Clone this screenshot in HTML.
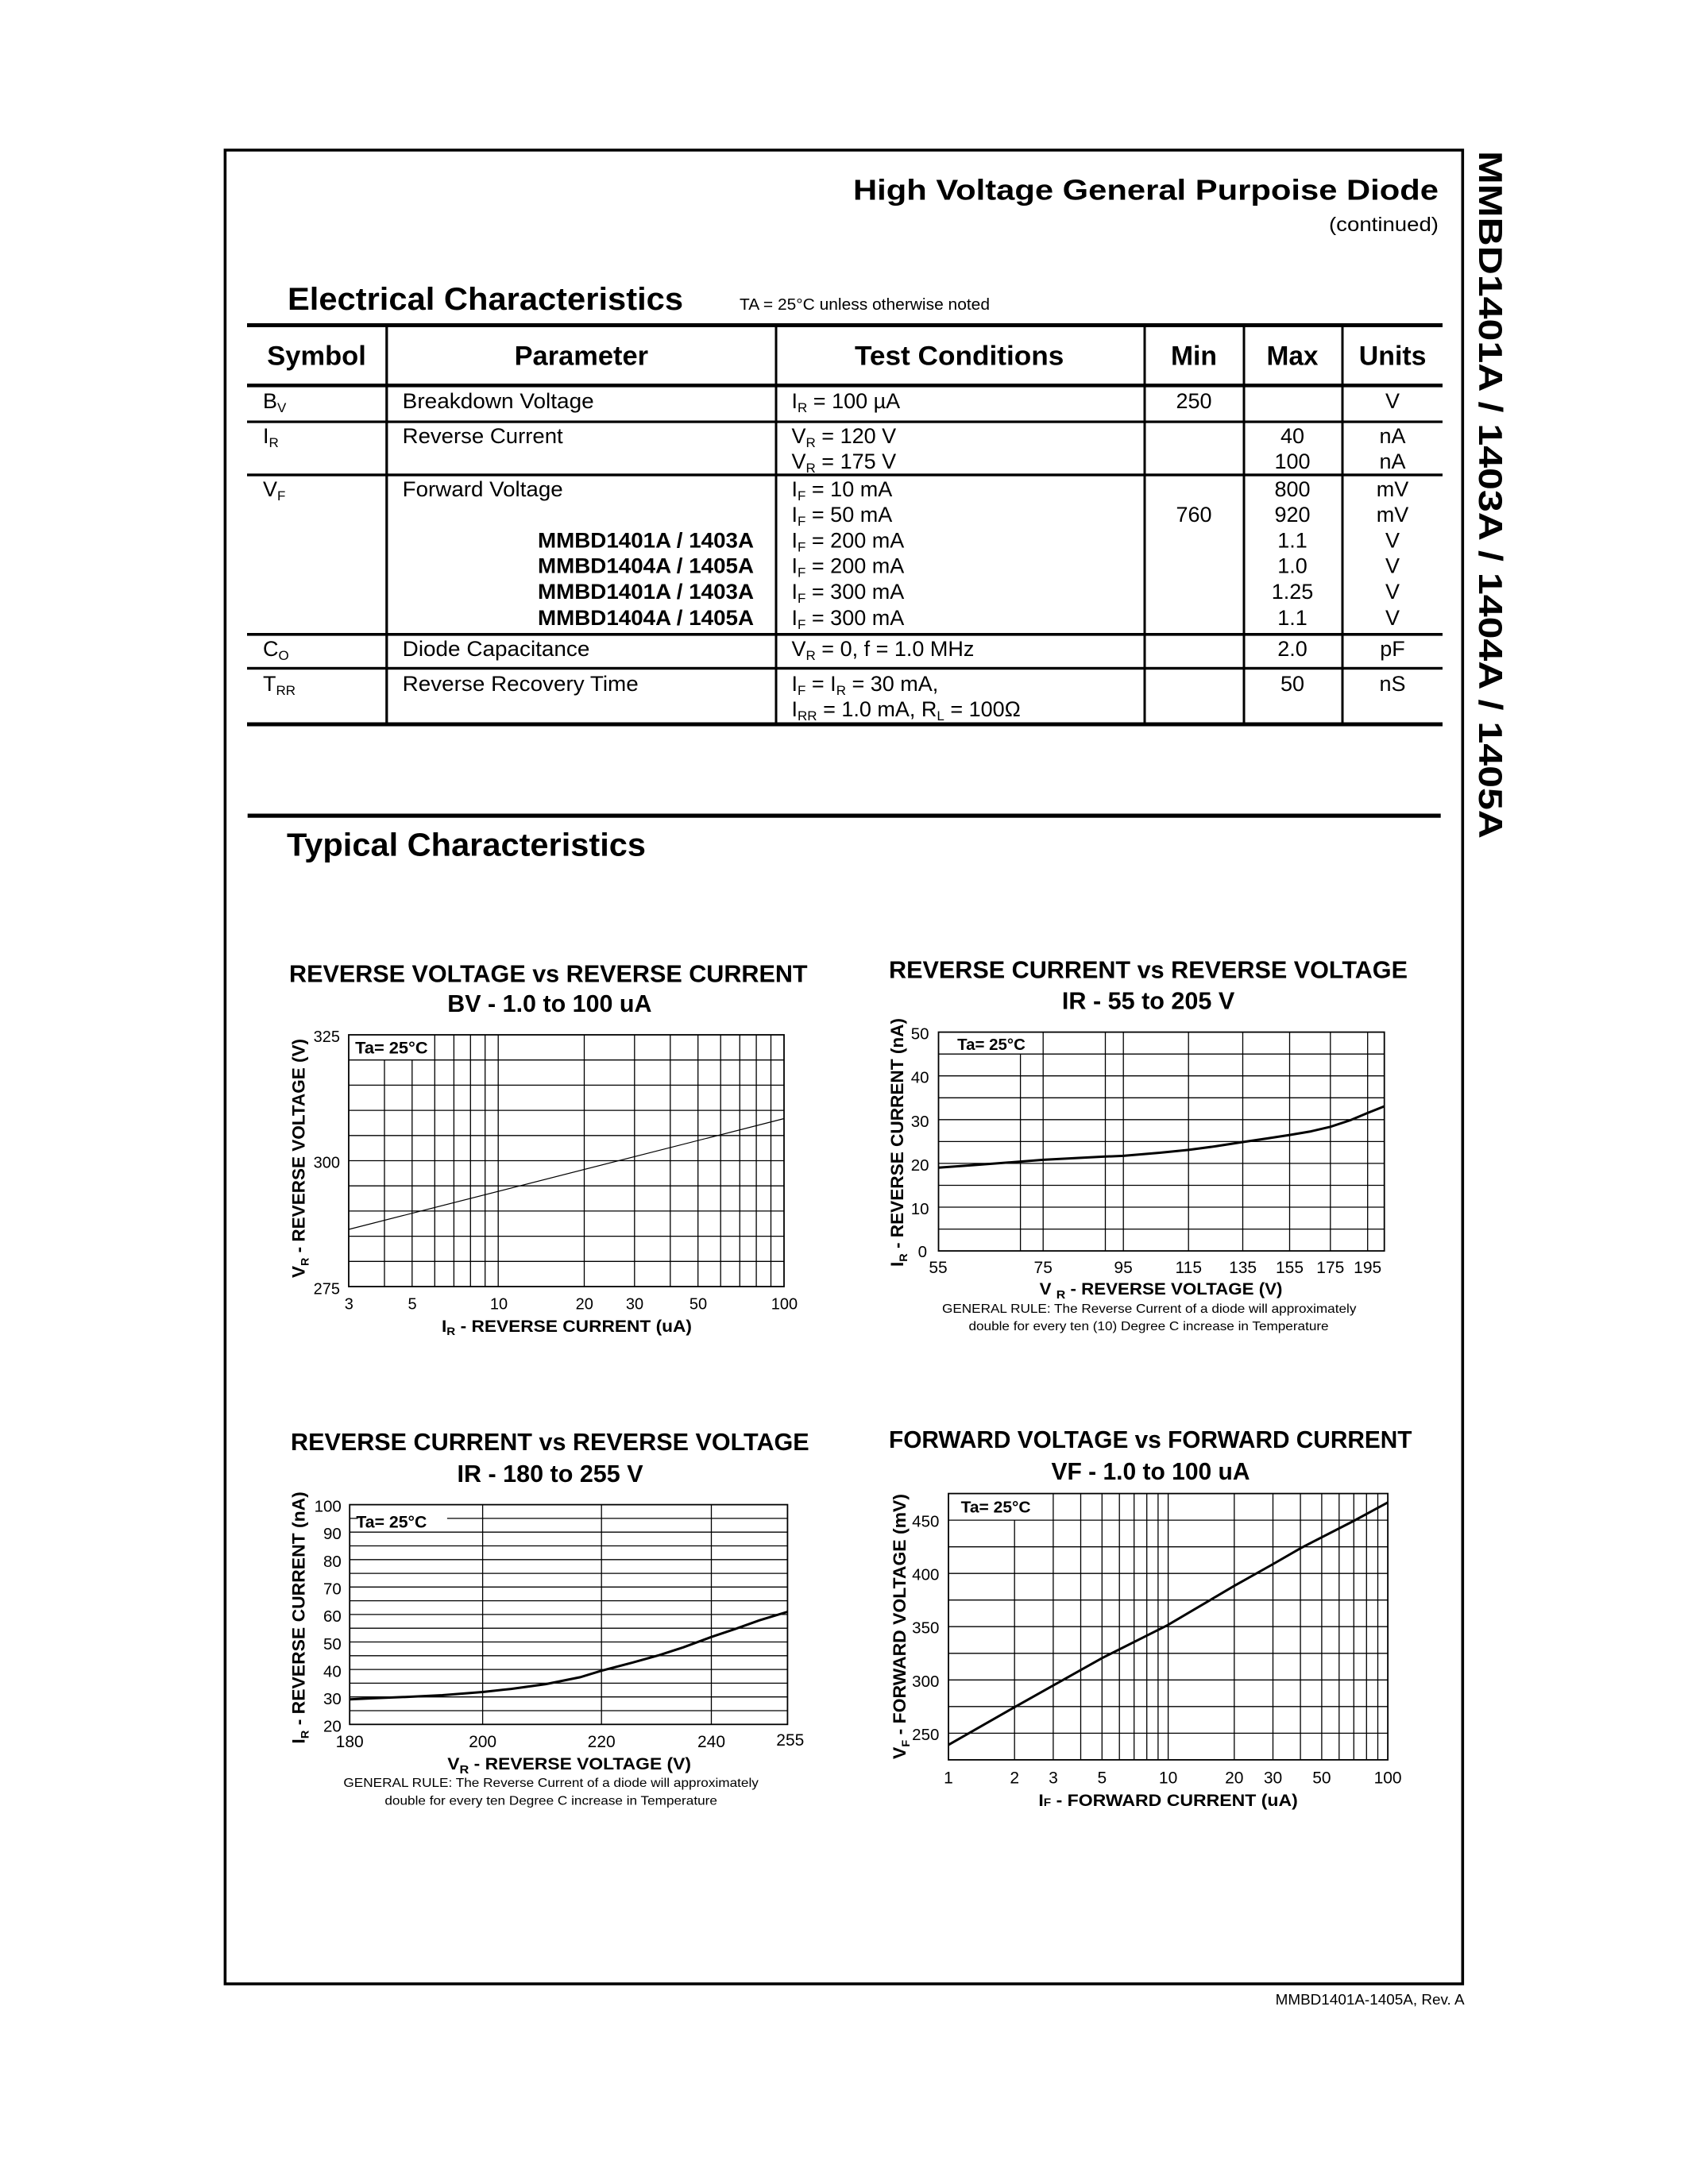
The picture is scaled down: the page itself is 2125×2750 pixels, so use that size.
<!DOCTYPE html>
<html><head><meta charset="utf-8"><style>
html,body{margin:0;padding:0;background:#fff}
svg{display:block}
text{font-family:"Liberation Sans",Arial,sans-serif;fill:#000}
.b{font-weight:bold}
</style></head><body>
<svg xmlns="http://www.w3.org/2000/svg" width="2125" height="2750" viewBox="0 0 2125 2750">
<rect width="2125" height="2750" fill="#fff"/>
<!-- outer box -->
<rect x="283.4" y="189" width="1557.9" height="2309" fill="none" stroke="#000" stroke-width="3.6"/>
<!-- vertical side text -->
<text class="b" transform="translate(1862,190) rotate(90)" font-size="42" textLength="866" lengthAdjust="spacingAndGlyphs">MMBD1401A / 1403A / 1404A / 1405A</text>
<!-- header -->
<text class="b" x="1074" y="251.5" font-size="36" textLength="737" lengthAdjust="spacingAndGlyphs">High Voltage General Purpoise Diode</text>
<text x="1673" y="291" font-size="25" textLength="138" lengthAdjust="spacingAndGlyphs">(continued)</text>
<text class="b" x="362" y="390" font-size="40" textLength="498" lengthAdjust="spacingAndGlyphs">Electrical Characteristics</text>
<text x="931" y="390" font-size="20" textLength="315" lengthAdjust="spacingAndGlyphs">TA = 25°C unless otherwise noted</text>

<!-- table lines -->
<g fill="#000">
<rect x="311" y="407" width="1505" height="5"/>
<rect x="311" y="483" width="1505" height="4.6"/>
<rect x="311" y="529.5" width="1505" height="3.2"/>
<rect x="311" y="596.3" width="1505" height="3.4"/>
<rect x="311" y="797" width="1505" height="3.6"/>
<rect x="311" y="839.8" width="1505" height="3.4"/>
<rect x="311" y="909.5" width="1505" height="5"/>
<rect x="485.2" y="410" width="3.2" height="501"/>
<rect x="975.5" y="410" width="3" height="501"/>
<rect x="1439.5" y="410" width="3" height="501"/>
<rect x="1564.5" y="410" width="3" height="501"/>
<rect x="1688.5" y="410" width="3" height="501"/>
</g>
<!-- table header text -->
<g>
<text class="b" x="336.3" y="459.5" font-size="34" textLength="124.5" lengthAdjust="spacingAndGlyphs">Symbol</text>
<text class="b" x="647.6" y="459.5" font-size="34" textLength="168.4" lengthAdjust="spacingAndGlyphs">Parameter</text>
<text class="b" x="1076" y="459.5" font-size="34" textLength="263.3" lengthAdjust="spacingAndGlyphs">Test Conditions</text>
<text class="b" x="1474" y="459.5" font-size="34" textLength="58" lengthAdjust="spacingAndGlyphs">Min</text>
<text class="b" x="1594.5" y="459.5" font-size="34" textLength="65" lengthAdjust="spacingAndGlyphs">Max</text>
<text class="b" x="1710.8" y="459.5" font-size="34" textLength="84.7" lengthAdjust="spacingAndGlyphs">Units</text>
</g>
<!-- table body -->
<g font-size="27">
<!-- BV -->
<text x="331" y="514" font-size="27">B<tspan font-size="17" dy="5">V</tspan></text>
<text x="506.7" y="514" font-size="27" textLength="241" lengthAdjust="spacingAndGlyphs">Breakdown Voltage</text>
<text x="996.5" y="514" font-size="27">I<tspan font-size="17" dy="5">R</tspan><tspan dy="-5"> = 100 µA</tspan></text>
<text x="1503" y="514" font-size="27" text-anchor="middle">250</text>
<text x="1753" y="514" font-size="27" text-anchor="middle">V</text>
<!-- IR -->
<text x="331" y="558" font-size="27">I<tspan font-size="17" dy="5">R</tspan></text>
<text x="506.7" y="558" font-size="27" textLength="202" lengthAdjust="spacingAndGlyphs">Reverse Current</text>
<text x="996.5" y="558" font-size="27">V<tspan font-size="17" dy="5">R</tspan><tspan dy="-5"> = 120 V</tspan></text>
<text x="996.5" y="590" font-size="27">V<tspan font-size="17" dy="5">R</tspan><tspan dy="-5"> = 175 V</tspan></text>
<text x="1627" y="558" font-size="27" text-anchor="middle">40</text>
<text x="1627" y="590" font-size="27" text-anchor="middle">100</text>
<text x="1753" y="558" font-size="27" text-anchor="middle">nA</text>
<text x="1753" y="590" font-size="27" text-anchor="middle">nA</text>
<!-- VF -->
<text x="331" y="625" font-size="27">V<tspan font-size="17" dy="5">F</tspan></text>
<text x="506.7" y="625" font-size="27" textLength="202" lengthAdjust="spacingAndGlyphs">Forward Voltage</text>
<text class="b" x="677" y="689.5" font-size="27" textLength="272" lengthAdjust="spacingAndGlyphs">MMBD1401A / 1403A</text>
<text class="b" x="677" y="721.5" font-size="27" textLength="272" lengthAdjust="spacingAndGlyphs">MMBD1404A / 1405A</text>
<text class="b" x="677" y="754" font-size="27" textLength="272" lengthAdjust="spacingAndGlyphs">MMBD1401A / 1403A</text>
<text class="b" x="677" y="787" font-size="27" textLength="272" lengthAdjust="spacingAndGlyphs">MMBD1404A / 1405A</text>
<text x="996.5" y="625" font-size="27">I<tspan font-size="17" dy="5">F</tspan><tspan dy="-5"> = 10 mA</tspan></text>
<text x="996.5" y="657" font-size="27">I<tspan font-size="17" dy="5">F</tspan><tspan dy="-5"> = 50 mA</tspan></text>
<text x="996.5" y="689.5" font-size="27">I<tspan font-size="17" dy="5">F</tspan><tspan dy="-5"> = 200 mA</tspan></text>
<text x="996.5" y="721.5" font-size="27">I<tspan font-size="17" dy="5">F</tspan><tspan dy="-5"> = 200 mA</tspan></text>
<text x="996.5" y="754" font-size="27">I<tspan font-size="17" dy="5">F</tspan><tspan dy="-5"> = 300 mA</tspan></text>
<text x="996.5" y="787" font-size="27">I<tspan font-size="17" dy="5">F</tspan><tspan dy="-5"> = 300 mA</tspan></text>
<text x="1503" y="657" font-size="27" text-anchor="middle">760</text>
<text x="1627" y="625" font-size="27" text-anchor="middle">800</text>
<text x="1627" y="657" font-size="27" text-anchor="middle">920</text>
<text x="1627" y="689.5" font-size="27" text-anchor="middle">1.1</text>
<text x="1627" y="721.5" font-size="27" text-anchor="middle">1.0</text>
<text x="1627" y="754" font-size="27" text-anchor="middle">1.25</text>
<text x="1627" y="787" font-size="27" text-anchor="middle">1.1</text>
<text x="1753" y="625" font-size="27" text-anchor="middle">mV</text>
<text x="1753" y="657" font-size="27" text-anchor="middle">mV</text>
<text x="1753" y="689.5" font-size="27" text-anchor="middle">V</text>
<text x="1753" y="721.5" font-size="27" text-anchor="middle">V</text>
<text x="1753" y="754" font-size="27" text-anchor="middle">V</text>
<text x="1753" y="787" font-size="27" text-anchor="middle">V</text>
<!-- CO -->
<text x="331" y="826" font-size="27">C<tspan font-size="17" dy="5">O</tspan></text>
<text x="506.7" y="826" font-size="27" textLength="235.7" lengthAdjust="spacingAndGlyphs">Diode Capacitance</text>
<text x="996.5" y="826" font-size="27">V<tspan font-size="17" dy="5">R</tspan><tspan dy="-5"> = 0, f = 1.0 MHz</tspan></text>
<text x="1627" y="826" font-size="27" text-anchor="middle">2.0</text>
<text x="1753" y="826" font-size="27" text-anchor="middle">pF</text>
<!-- TRR -->
<text x="331" y="870" font-size="27">T<tspan font-size="17" dy="5">RR</tspan></text>
<text x="506.7" y="870" font-size="27" textLength="297" lengthAdjust="spacingAndGlyphs">Reverse Recovery Time</text>
<text x="996.5" y="870" font-size="27">I<tspan font-size="17" dy="5">F</tspan><tspan dy="-5"> = I</tspan><tspan font-size="17" dy="5">R</tspan><tspan dy="-5"> = 30 mA,</tspan></text>
<text x="996.5" y="902" font-size="27">I<tspan font-size="17" dy="5">RR</tspan><tspan dy="-5"> = 1.0 mA, R</tspan><tspan font-size="17" dy="5">L</tspan><tspan dy="-5"> = 100Ω</tspan></text>
<text x="1627" y="870" font-size="27" text-anchor="middle">50</text>
<text x="1753" y="870" font-size="27" text-anchor="middle">nS</text>
</g>

<!-- Typical Characteristics -->
<rect x="311.7" y="1024.5" width="1502" height="5.2" fill="#000"/>
<text class="b" x="361" y="1077.3" font-size="41" textLength="452" lengthAdjust="spacingAndGlyphs">Typical Characteristics</text>

<!-- ===== Chart 1 ===== -->
<text class="b" x="364" y="1236.4" font-size="31" textLength="652.6" lengthAdjust="spacingAndGlyphs">REVERSE VOLTAGE vs REVERSE CURRENT</text>
<text class="b" x="563.3" y="1274.1" font-size="31" textLength="257.2" lengthAdjust="spacingAndGlyphs">BV - 1.0 to 100 uA</text>
<g stroke="#000" stroke-width="1.3" fill="none">
<path d="M547.3 1303V1620M571.4 1303V1620M592.3 1303V1620M610.7 1303V1620M627.2 1303V1620M735.5 1303V1620M798.8 1303V1620M843.8 1303V1620M878.7 1303V1620M907.2 1303V1620M931.3 1303V1620M952.1 1303V1620M970.5 1303V1620M484 1334.7V1620M518.8 1334.7V1620"/>
<path d="M439 1334.7H987M439 1366.4H987M439 1398.1H987M439 1429.8H987M439 1461.5H987M439 1493.2H987M439 1524.9H987M439 1556.6H987M439 1588.3H987"/>
<rect x="439" y="1303" width="548" height="317" stroke-width="1.8"/>
<path d="M439 1548L987 1408.5" stroke-width="1.2"/>
</g>
<text class="b" x="447.1" y="1326.6" font-size="21" textLength="91.5" lengthAdjust="spacingAndGlyphs">Ta= 25°C</text>
<g>
<text x="428" y="1312" text-anchor="end" font-size="20">325</text>
<text x="428" y="1470.5" text-anchor="end" font-size="20">300</text>
<text x="428" y="1629.5" text-anchor="end" font-size="20">275</text>
</g>
<g>
<text x="439.3" y="1648.3" text-anchor="middle" font-size="20">3</text>
<text x="519" y="1648.3" text-anchor="middle" font-size="20">5</text>
<text x="628" y="1648.3" text-anchor="middle" font-size="20">10</text>
<text x="735.8" y="1648.3" text-anchor="middle" font-size="20">20</text>
<text x="799" y="1648.3" text-anchor="middle" font-size="20">30</text>
<text x="879" y="1648.3" text-anchor="middle" font-size="20">50</text>
<text x="987.4" y="1648.3" text-anchor="middle" font-size="20">100</text>
</g>
<text class="b" x="556" y="1677" font-size="21" textLength="315" lengthAdjust="spacingAndGlyphs">I<tspan font-size="14" dy="4">R</tspan><tspan dy="-4"> - REVERSE CURRENT (uA)</tspan></text>
<text class="b" transform="translate(383.4,1609) rotate(-90)" font-size="22" textLength="301" lengthAdjust="spacingAndGlyphs">V<tspan font-size="14" dy="5">R</tspan><tspan dy="-5"> - REVERSE VOLTAGE (V)</tspan></text>

<!-- ===== Chart 2 ===== -->
<text class="b" x="1119" y="1231.3" font-size="31" textLength="653" lengthAdjust="spacingAndGlyphs">REVERSE CURRENT vs REVERSE VOLTAGE</text>
<text class="b" x="1336.9" y="1270.6" font-size="31" textLength="217.4" lengthAdjust="spacingAndGlyphs">IR - 55 to 205 V</text>
<g stroke="#000" stroke-width="1.3" fill="none">
<path d="M1284.6 1327.2V1575.1M1313.2 1299.6V1575.1M1391.5 1299.6V1575.1M1414.2 1299.6V1575.1M1496.2 1299.6V1575.1M1564.5 1299.6V1575.1M1623.5 1299.6V1575.1M1674.8 1299.6V1575.1M1721.7 1299.6V1575.1"/>
<path d="M1181.5 1327.2H1742.7M1181.5 1354.7H1742.7M1181.5 1382.3H1742.7M1181.5 1409.8H1742.7M1181.5 1437.4H1742.7M1181.5 1464.9H1742.7M1181.5 1492.5H1742.7M1181.5 1520H1742.7M1181.5 1547.6H1742.7"/>
<rect x="1181.5" y="1299.6" width="561.2" height="275.5" stroke-width="1.8"/>
<path d="M1181.5 1470.2L1230 1466.8L1284.6 1462.6L1313.2 1460.4L1391.3 1456.3L1414.1 1455.4L1460 1451.5L1496.3 1447.9L1530 1443.4L1564.6 1438L1595 1433.5L1623.5 1429.1L1650 1424.6L1674.8 1418.8L1700 1410.5L1721.7 1401.4L1742.7 1393" stroke-width="3"/>
</g>
<text class="b" x="1205.2" y="1322" font-size="20" textLength="85.7" lengthAdjust="spacingAndGlyphs">Ta= 25°C</text>
<g>
<text x="1169.5" y="1308.6" text-anchor="end" font-size="20.5">50</text>
<text x="1169.5" y="1363.7" text-anchor="end" font-size="20.5">40</text>
<text x="1169.5" y="1418.8" text-anchor="end" font-size="20.5">30</text>
<text x="1169.5" y="1473.9" text-anchor="end" font-size="20.5">20</text>
<text x="1169.5" y="1529" text-anchor="end" font-size="20.5">10</text>
<text x="1167" y="1583" text-anchor="end" font-size="20.5">0</text>
</g>
<g>
<text x="1181" y="1603" text-anchor="middle" font-size="21">55</text>
<text x="1313.2" y="1603" text-anchor="middle" font-size="21">75</text>
<text x="1414.1" y="1603" text-anchor="middle" font-size="21">95</text>
<text x="1496.3" y="1603" text-anchor="middle" font-size="21">115</text>
<text x="1564.6" y="1603" text-anchor="middle" font-size="21">135</text>
<text x="1623.5" y="1603" text-anchor="middle" font-size="21">155</text>
<text x="1674.8" y="1603" text-anchor="middle" font-size="21">175</text>
<text x="1721.7" y="1603" text-anchor="middle" font-size="21">195</text>
</g>
<text class="b" x="1308.7" y="1630" font-size="21" textLength="305.8" lengthAdjust="spacingAndGlyphs">V <tspan font-size="15" dy="5">R</tspan><tspan dy="-5">  - REVERSE VOLTAGE (V)</tspan></text>
<text x="1186" y="1653" font-size="16" textLength="521.4" lengthAdjust="spacingAndGlyphs">GENERAL RULE: The Reverse Current of a diode will approximately</text>
<text x="1219.5" y="1675" font-size="16" textLength="453.1" lengthAdjust="spacingAndGlyphs">double for every ten (10) Degree C increase in Temperature</text>
<text class="b" transform="translate(1137,1595) rotate(-90)" font-size="22" textLength="313" lengthAdjust="spacingAndGlyphs">I<tspan font-size="14" dy="5">R</tspan><tspan dy="-5">  - REVERSE CURRENT (nA)</tspan></text>

<!-- ===== Chart 3 ===== -->
<text class="b" x="366" y="1826.1" font-size="31" textLength="652.7" lengthAdjust="spacingAndGlyphs">REVERSE CURRENT vs REVERSE VOLTAGE</text>
<text class="b" x="575.5" y="1866" font-size="31" textLength="234.1" lengthAdjust="spacingAndGlyphs">IR - 180 to 255 V</text>
<g stroke="#000" stroke-width="1.3" fill="none">
<path d="M607.6 1894.6V2171.3M757.2 1894.6V2171.3M895.5 1894.6V2171.3"/>
<path d="M440.2 1911.9H450.6M562.9 1911.9H991.4M440.2 1929.2H991.4M440.2 1946.5H991.4M440.2 1963.8H991.4M440.2 1981.1H991.4M440.2 1998.3H991.4M440.2 2015.6H991.4M440.2 2032.9H991.4M440.2 2050.2H991.4M440.2 2067.5H991.4M440.2 2084.8H991.4M440.2 2102.1H991.4M440.2 2119.4H991.4M440.2 2136.7H991.4M440.2 2154H991.4"/>
<rect x="440.2" y="1894.6" width="551.2" height="276.7" stroke-width="1.8"/>
<path d="M440.2 2139.7L470.1 2138.4L513.5 2136.6L556.8 2134.5L607.6 2130.5L643.6 2126.6L686.9 2120.6L730.3 2111.9L757.2 2103.7L795.4 2093.7L830 2084.1L860.4 2074.2L895.5 2061.2L925.4 2051.2L955.8 2040.3L991.4 2029.5" stroke-width="3"/>
</g>
<text class="b" x="448.4" y="1923.3" font-size="21" textLength="89" lengthAdjust="spacingAndGlyphs">Ta= 25°C</text>
<g>
<text x="429.8" y="1903.6" text-anchor="end" font-size="20.5">100</text>
<text x="429.8" y="1938.2" text-anchor="end" font-size="20.5">90</text>
<text x="429.8" y="1972.8" text-anchor="end" font-size="20.5">80</text>
<text x="429.8" y="2007.5" text-anchor="end" font-size="20.5">70</text>
<text x="429.8" y="2042.2" text-anchor="end" font-size="20.5">60</text>
<text x="429.8" y="2076.8" text-anchor="end" font-size="20.5">50</text>
<text x="429.8" y="2111.4" text-anchor="end" font-size="20.5">40</text>
<text x="429.8" y="2146.1" text-anchor="end" font-size="20.5">30</text>
<text x="429.8" y="2180.3" text-anchor="end" font-size="20.5">20</text>
</g>
<g>
<text x="440.2" y="2200" text-anchor="middle" font-size="21">180</text>
<text x="607.6" y="2200" text-anchor="middle" font-size="21">200</text>
<text x="757.2" y="2200" text-anchor="middle" font-size="21">220</text>
<text x="895.5" y="2200" text-anchor="middle" font-size="21">240</text>
<text x="994.8" y="2197.8" text-anchor="middle" font-size="21">255</text>
</g>
<text class="b" x="563.3" y="2228" font-size="21" textLength="306.7" lengthAdjust="spacingAndGlyphs">V<tspan font-size="15" dy="5">R</tspan><tspan dy="-5">  - REVERSE VOLTAGE (V)</tspan></text>
<text x="432.4" y="2250" font-size="16" textLength="522.5" lengthAdjust="spacingAndGlyphs">GENERAL RULE: The Reverse Current of a diode will approximately</text>
<text x="484.4" y="2272.5" font-size="16" textLength="418.5" lengthAdjust="spacingAndGlyphs">double for every ten Degree C increase in Temperature</text>
<text class="b" transform="translate(383.4,2195.6) rotate(-90)" font-size="22" textLength="317.4" lengthAdjust="spacingAndGlyphs">I<tspan font-size="14" dy="5">R</tspan><tspan dy="-5">  - REVERSE CURRENT (nA)</tspan></text>

<!-- ===== Chart 4 ===== -->
<text class="b" x="1119" y="1822.9" font-size="31" textLength="658.5" lengthAdjust="spacingAndGlyphs">FORWARD VOLTAGE vs FORWARD CURRENT</text>
<text class="b" x="1323.5" y="1863" font-size="31" textLength="250" lengthAdjust="spacingAndGlyphs">VF - 1.0 to 100 uA</text>
<g stroke="#000" stroke-width="1.3" fill="none">
<path d="M1277.2 1914.1V2215.9M1325.9 1880.6V2215.9M1360.5 1880.6V2215.9M1387.3 1880.6V2215.9M1409.2 1880.6V2215.9M1427.7 1880.6V2215.9M1443.7 1880.6V2215.9M1457.9 1880.6V2215.9M1470.6 1880.6V2215.9M1553.8 1880.6V2215.9M1602.5 1880.6V2215.9M1637.1 1880.6V2215.9M1663.9 1880.6V2215.9M1685.8 1880.6V2215.9M1704.3 1880.6V2215.9M1720.3 1880.6V2215.9M1734.5 1880.6V2215.9"/>
<path d="M1194 1914.1H1747.1M1194 1947.7H1747.1M1194 1981.2H1747.1M1194 2014.7H1747.1M1194 2048.2H1747.1M1194 2081.8H1747.1M1194 2115.3H1747.1M1194 2148.8H1747.1M1194 2182.4H1747.1"/>
<rect x="1194" y="1880.6" width="553.1" height="335.3" stroke-width="1.8"/>
<path d="M1194 2197.1L1277.5 2149.4L1326.2 2122.1L1387.3 2087.8L1469.9 2046.3L1553.4 1997.1L1602.5 1969.5L1637.3 1949.4L1704.3 1915L1747.1 1891.8" stroke-width="3"/>
</g>
<text class="b" x="1209.6" y="1904.7" font-size="20" textLength="88" lengthAdjust="spacingAndGlyphs">Ta= 25°C</text>
<g>
<text x="1182.4" y="1922.6" text-anchor="end" font-size="20.5">450</text>
<text x="1182.4" y="1989.7" text-anchor="end" font-size="20.5">400</text>
<text x="1182.4" y="2056.7" text-anchor="end" font-size="20.5">350</text>
<text x="1182.4" y="2123.8" text-anchor="end" font-size="20.5">300</text>
<text x="1182.4" y="2190.9" text-anchor="end" font-size="20.5">250</text>
</g>
<g>
<text x="1194" y="2245.4" text-anchor="middle" font-size="21">1</text>
<text x="1277.2" y="2245.4" text-anchor="middle" font-size="21">2</text>
<text x="1326" y="2245.4" text-anchor="middle" font-size="21">3</text>
<text x="1387.3" y="2245.4" text-anchor="middle" font-size="21">5</text>
<text x="1470.6" y="2245.4" text-anchor="middle" font-size="21">10</text>
<text x="1553.8" y="2245.4" text-anchor="middle" font-size="21">20</text>
<text x="1602.5" y="2245.4" text-anchor="middle" font-size="21">30</text>
<text x="1663.9" y="2245.4" text-anchor="middle" font-size="21">50</text>
<text x="1747.1" y="2245.4" text-anchor="middle" font-size="21">100</text>
</g>
<text class="b" x="1307.4" y="2274" font-size="21" textLength="326.4" lengthAdjust="spacingAndGlyphs">I<tspan font-size="14">F</tspan>  - FORWARD CURRENT  (uA)</text>
<text class="b" transform="translate(1140,2215) rotate(-90)" font-size="22" textLength="334" lengthAdjust="spacingAndGlyphs">V<tspan font-size="14" dy="5">F</tspan><tspan dy="-5">  - FORWARD VOLTAGE (mV)</tspan></text>

<!-- footer -->
<text x="1605.6" y="2524" font-size="18" textLength="238" lengthAdjust="spacingAndGlyphs">MMBD1401A-1405A,  Rev. A</text>
</svg>
</body></html>
